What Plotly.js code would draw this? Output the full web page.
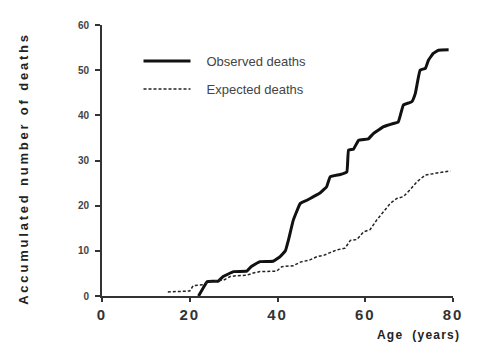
<!DOCTYPE html>
<html>
<head>
<meta charset="utf-8">
<script src="https://cdn.plot.ly/plotly-3.0.1.min.js"></script>
<style>
  body { margin: 0; background: #fff; }
  #chart { width: 481px; height: 356px; }
  .ytitle { letter-spacing: 2.8px; translate: 0px 8px; }
  .xtick text { letter-spacing: 2px; }
  .annotation-text { letter-spacing: 1.2px; }
  .legend .scrollbox { clip-path: none !important; }
  .legendtext { translate: 11px 0px; }
</style>
</head>
<body>
<div id="chart"></div>
<script>
// Observed deaths (cumulative) by age
const obsAge = [22, 23.5, 24, 26.5, 27.6, 30, 33, 34, 36, 39, 40.6, 41.8, 42.5, 43.6, 45.2, 46.7, 48.2, 49.7, 51.2, 52, 54.3, 55.8, 56.2, 57.3, 58.5, 60.7, 61.9, 64.2, 66.4, 67.5, 68, 68.7, 70.6, 71.4, 72.5, 73.7, 74.4, 75.5, 76.7, 79];
const obsDeaths = [0, 2.5, 3.2, 3.3, 4.3, 5.4, 5.5, 6.5, 7.6, 7.7, 8.7, 10, 12.4, 16.8, 20.5, 21.2, 22, 22.8, 24.2, 26.4, 26.9, 27.5, 32.3, 32.5, 34.5, 34.8, 36, 37.5, 38.2, 38.5, 40, 42.3, 43, 44.8, 50, 50.4, 52.2, 53.7, 54.4, 54.5];

// Expected deaths (cumulative) by age
const expAge = [15, 20, 20.8, 23.1, 24.2, 27.7, 29.2, 30.7, 33, 34.5, 36, 39.8, 41, 43.6, 45.2, 47.4, 49, 50.5, 52, 53.5, 55.4, 56.6, 58.1, 59.6, 61.1, 62.6, 64.2, 65.7, 67.2, 68.7, 70.2, 71.8, 73.7, 75.6, 77.1, 79.4];
const expDeaths = [0.9, 1.1, 2.3, 2.5, 3.2, 3.5, 4.3, 4.5, 4.6, 5.1, 5.4, 5.5, 6.5, 6.7, 7.5, 8, 8.7, 9, 9.6, 10.2, 10.6, 12.3, 12.5, 14.2, 14.7, 16.8, 18.7, 20.5, 21.6, 22, 23.5, 25.3, 26.8, 27.1, 27.4, 27.7];

const xTicks = [0, 20, 40, 60, 80];
const yTicks = [0, 10, 20, 30, 40, 50, 60];
const seriesNames = ["Observed deaths", "Expected deaths"];

const traces = [
  {
    x: obsAge, y: obsDeaths, name: seriesNames[0], type: "scatter", mode: "lines",
    legendgroup: "a",
    line: { color: "#111", width: 3, shape: "spline", smoothing: 0.3 }
  },
  {
    x: expAge, y: expDeaths, name: seriesNames[1], type: "scatter", mode: "lines",
    legendgroup: "b",
    line: { color: "#222", width: 1.5, dash: "3px,2px" }
  }
];

const layout = {
  width: 481, height: 356,
  margin: { l: 102, r: 28, t: 25, b: 60 },
  paper_bgcolor: "#fff", plot_bgcolor: "#fff",
  font: { family: "Liberation Sans, Arial, sans-serif", color: "#333" },
  showlegend: true,
  legend: {
    x: 0.104, y: 0.815, xanchor: "left", yanchor: "middle",
    font: { size: 13, color: "#444" },
    tracegroupgap: 8, itemwidth: 47,
    bgcolor: "rgba(0,0,0,0)"
  },
  xaxis: {
    range: [0, 80], tickvals: xTicks, ticks: "outside", ticklen: 4, tickwidth: 2,
    tickcolor: "#333", showline: true, linecolor: "#333", linewidth: 2,
    showgrid: false, zeroline: false,
    tickfont: { size: 15, weight: "bold", color: "#333" }
  },
  yaxis: {
    range: [0, 60], tickvals: yTicks, ticks: "outside", ticklen: 5, tickwidth: 2,
    tickcolor: "#333", showline: true, linecolor: "#333", linewidth: 2,
    showgrid: false, zeroline: false, ticklabelstandoff: 4,
    tickfont: { size: 10, weight: "bold", color: "#444" },
    title: { text: "Accumulated number of deaths", font: { size: 13, weight: "bold", color: "#222" }, standoff: 46 }
  },
  annotations: [
    { text: "Age  (years)", xref: "paper", yref: "paper", x: 1.026, y: -0.145,
      xanchor: "right", yanchor: "middle", showarrow: false,
      font: { size: 12, weight: "bold", color: "#222" } }
  ]
};

Plotly.newPlot("chart", traces, layout, { displayModeBar: false, staticPlot: true });
</script>
</body>
</html>
